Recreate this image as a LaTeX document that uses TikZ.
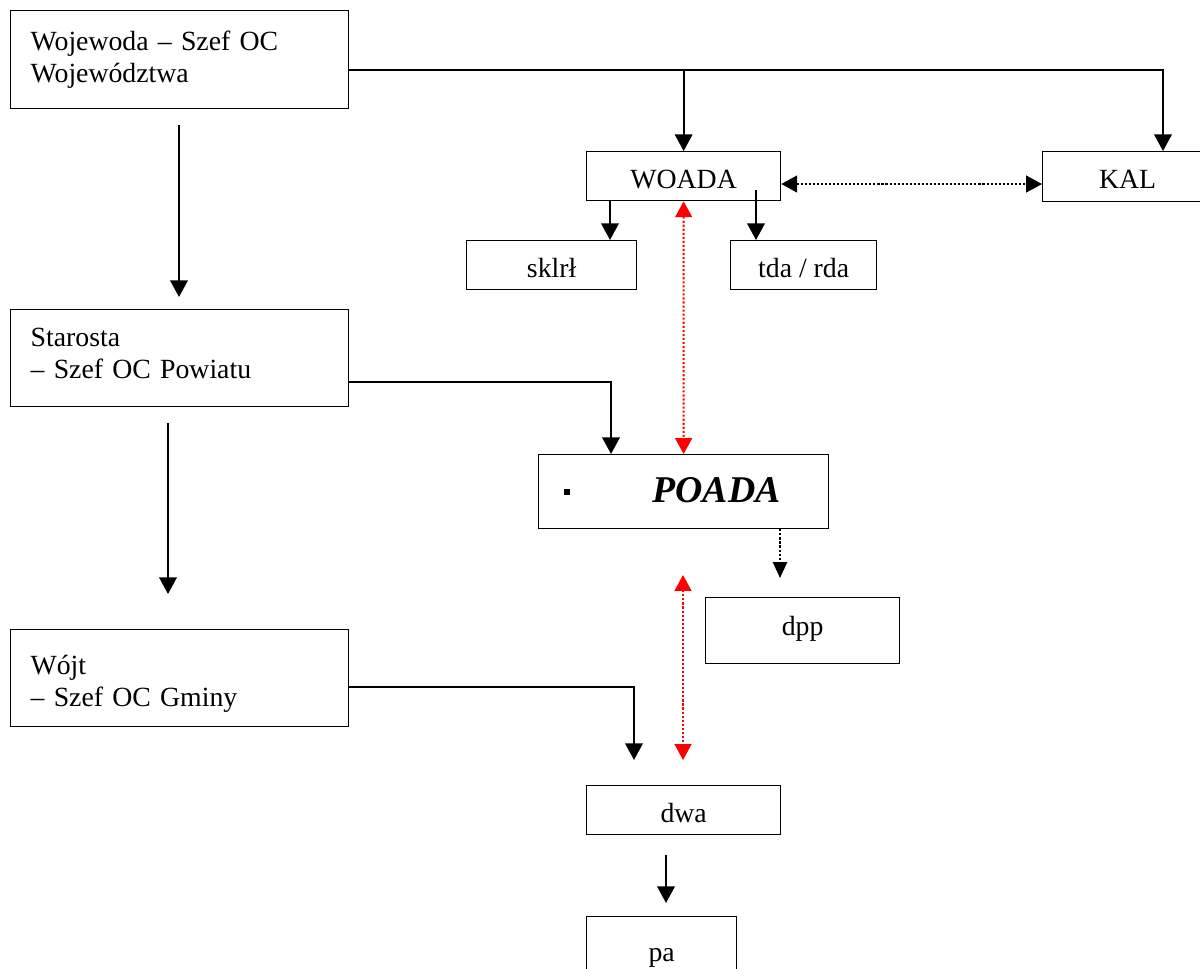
\documentclass[tikz,border=0pt]{standalone}
\usepackage{fontspec}
\setmainfont{Liberation Serif}
\usetikzlibrary{arrows.meta}

\begin{document}
\begin{tikzpicture}[x=0.02cm,y=-0.02cm,
    box/.style={draw,line width=0.75pt,inner sep=0pt,anchor=north west,
      font=\fontsize{15.8pt}{18.2pt}\selectfont},
    unitbox/.style={box,text width=5.96cm,inner xsep=0.4cm,align=left,
      minimum width=6.76cm},
    smallbox/.style={box,text height=0.48cm,text depth=0pt,minimum height=0.98cm},
    conn/.style={line width=1.2pt},
    arr/.style={conn,-{Triangle[width=10pt,length=9.5pt]}},
    dotline/.style={line width=1.2pt,dash pattern=on 1.2pt off 1.1pt},
    dotarr/.style={dotline,
      {Triangle[width=9.5pt,length=9pt]}-{Triangle[width=9.5pt,length=9pt]}},
    dotone/.style={dotline,-{Triangle[width=8pt,length=9pt]}},
    redarr/.style={dotarr,red},
  ]
    \path[use as bounding box,clip] (0,0) rectangle (1200,968);

    % boxes
    \node[unitbox,minimum height=1.96cm] (woj) at (10,10) {Wojewoda -- Szef OC\\Województwa};
    \node[unitbox,minimum height=1.94cm] (star) at (10,309) {Starosta\\-- Szef OC Powiatu\rule[-0.2cm]{0pt}{0pt}};
    \node[unitbox,minimum height=1.94cm] (wojt) at (10,629) {\rule{0pt}{0.6cm}Wójt\\-- Szef OC Gminy};

    \node[smallbox,minimum width=3.88cm] (woada) at (586,151) {WOADA};
    \node[smallbox,minimum width=3.4cm,minimum height=1cm] (kal) at (1042,151) {KAL};
    \node[smallbox,minimum width=3.4cm] (sklr) at (466,240) {sklrł};
    \node[smallbox,minimum width=2.92cm] (tda) at (730,240) {tda / rda};
    \node[box,text width=4.8cm,inner xsep=0.5cm,align=left,minimum width=5.8cm,
      minimum height=1.48cm,text height=0.44cm,text depth=0pt,
      font=\fontsize{21.5pt}{24pt}\selectfont\bfseries\itshape] (poada) at (538,454)
      {\rule[0.15cm]{0.12cm}{0.12cm}\hspace{1.66cm}POADA};
    \node[smallbox,minimum width=3.88cm,minimum height=1.32cm,text height=0.2cm] (dpp) at (705,597) {dpp};
    \node[smallbox,minimum width=3.88cm] (dwa) at (586,785) {dwa};
    \node[smallbox,minimum width=3cm,minimum height=1.32cm] (pa) at (586,916) {pa};

    % free ends and bends
    \coordinate (top) at (1163,70);
    \coordinate (sp) at (611,382);
    \coordinate (gp) at (634,687);
    \coordinate (ge) at (634,760);
    \coordinate (w1) at (179,125);
    \coordinate (w2) at (179,297);
    \coordinate (s1) at (168,423);
    \coordinate (s2) at (168,594);
    \coordinate (k1) at (610,0);
    \coordinate (t1) at (756,190);
    \coordinate (d1) at (0,184);
    \coordinate (p1) at (780,578);
    \coordinate (r1) at (683,575);
    \coordinate (r2) at (683,760);
    \coordinate (q1) at (666,855);
    \coordinate (q2) at (666,903);

    % connectors
    \draw[arr] (woj.east |- top) -| (kal.north -| top);
    \draw[arr] (woada.north |- top) -- (woada.north);
    \draw[arr] (w1) -- (w2);
    \draw[arr] (s1) -- (s2);
    \draw[arr] (star.east |- sp) -| (poada.north -| sp);
    \draw[arr] (wojt.east |- gp) -| (ge);
    \draw[arr] (woada.south -| k1) -- (sklr.north -| k1);
    \draw[arr] (t1) -- (tda.north -| t1);
    \draw[dotarr] (woada.east |- d1) -- (kal.west |- d1);
    \draw[redarr] (woada.south) -- (poada.north);
    \draw[dotone] (poada.south -| p1) -- (p1);
    \draw[redarr] (r1) -- (r2);
    \draw[arr] (q1) -- (q2);

\end{tikzpicture}
\end{document}
